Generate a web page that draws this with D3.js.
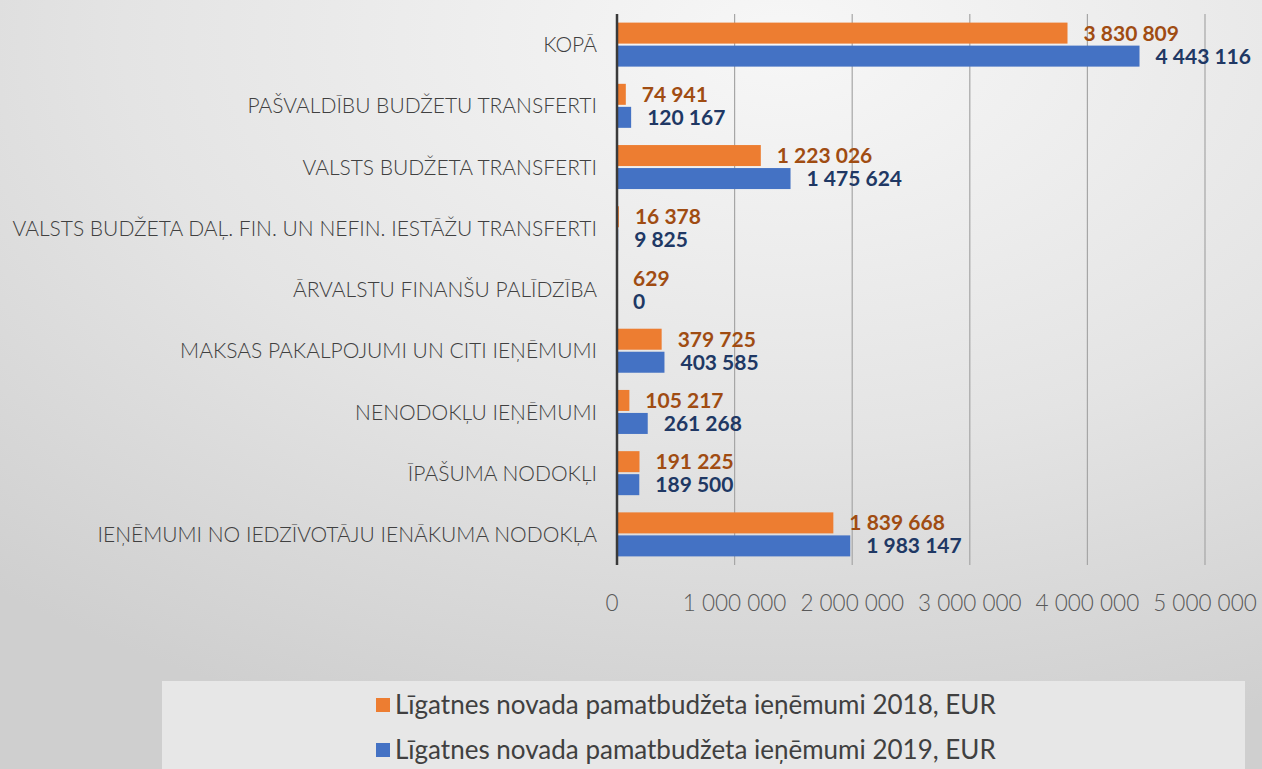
<!DOCTYPE html>
<html>
<head>
<meta charset="utf-8">
<script src="https://cdn.jsdelivr.net/npm/d3@7"></script>
<style>
  body { margin: 0; overflow: hidden; }
  svg { display: block; }
</style>
</head>
<body>
<svg></svg>
<script>
const width = 1262
const height = 769

const categories = [
    'KOPĀ',
    'PAŠVALDĪBU BUDŽETU TRANSFERTI',
    'VALSTS BUDŽETA TRANSFERTI',
    'VALSTS BUDŽETA DAĻ. FIN. UN NEFIN. IESTĀŽU TRANSFERTI',
    'ĀRVALSTU FINANŠU PALĪDZĪBA',
    'MAKSAS PAKALPOJUMI UN CITI IEŅĒMUMI',
    'NENODOKĻU IEŅĒMUMI',
    'ĪPAŠUMA NODOKĻI',
    'IEŅĒMUMI NO IEDZĪVOTĀJU IENĀKUMA NODOKĻA'
]
const values2018 = [3830809, 74941, 1223026, 16378, 629, 379725, 105217, 191225, 1839668]
const values2019 = [4443116, 120167, 1475624, 9825, 0, 403585, 261268, 189500, 1983147]
const seriesNames = [
    'Līgatnes novada pamatbudžeta ieņēmumi 2018, EUR',
    'Līgatnes novada pamatbudžeta ieņēmumi 2019, EUR'
]
const xTicks = [0, 1000000, 2000000, 3000000, 4000000, 5000000]

const barColors = ['#ed7d31', '#4472c4']
const labelColors = ['#a04c12', '#203864']

const fmt = d3.formatLocale({ decimal: ',', thousands: ' ', grouping: [3], currency: ['', ''] }).format(',d')

const series = [values2018, values2019]
const rows = categories.map((c, i) => ({ cat: c, vals: series.map(s => s[i]) }))

const svg = d3.select('svg')
    .attr('width', width)
    .attr('height', height)

// background
const defs = svg.append('defs')
const grad = defs.append('radialGradient')
    .attr('id', 'bg')
    .attr('cx', '0.62').attr('cy', '0.05').attr('r', '0.95')
grad.append('stop').attr('offset', '0').attr('stop-color', '#f7f7f7')
grad.append('stop').attr('offset', '0.55').attr('stop-color', '#e4e4e4')
grad.append('stop').attr('offset', '1').attr('stop-color', '#cfcfcf')
svg.append('rect')
    .attr('width', width).attr('height', height)
    .attr('fill', 'url(#bg)')

// legend box
svg.append('rect')
    .attr('x', 162).attr('y', 681)
    .attr('width', 1083).attr('height', 100)
    .attr('fill', '#e7e7e7')

const x = d3.scaleLinear()
    .domain([0, 5000000])
    .range([617, 1205])

const y = d3.scaleBand()
    .domain(categories)
    .range([14, 565])

const ySub = d3.scaleBand()
    .domain([0, 1])
    .range([0, y.bandwidth()])
    .paddingInner(0.087)
    .paddingOuter(0.374)

// gridlines
svg.append('g')
    .selectAll('line')
    .data(xTicks.slice(1))
    .enter()
    .append('line')
    .attr('x1', d => x(d)).attr('x2', d => x(d))
    .attr('y1', y.range()[0]).attr('y2', y.range()[1])
    .attr('stroke', '#a6a6a6')
    .attr('stroke-width', 1.2)

// bars
const groups = svg.append('g')
    .selectAll('g')
    .data(rows)
    .enter()
    .append('g')
    .attr('transform', d => `translate(0,${y(d.cat)})`)

groups.selectAll('rect')
    .data(d => d.vals.map((v, i) => ({ v, i })))
    .enter()
    .append('rect')
    .attr('x', x(0))
    .attr('y', d => ySub(d.i))
    .attr('width', d => x(d.v) - x(0))
    .attr('height', ySub.bandwidth())
    .attr('fill', d => barColors[d.i])

groups.selectAll('text')
    .data(d => d.vals.map((v, i) => ({ v, i })))
    .enter()
    .append('text')
    .attr('x', d => x(d.v) + 16)
    .attr('y', d => ySub(d.i) + ySub.bandwidth() / 2)
    .attr('dy', '0.36em')
    .attr('fill', d => labelColors[d.i])
    .style('font', 'bold 21px Lato, sans-serif')
    .text(d => fmt(d.v))

// vertical axis line
svg.append('line')
    .attr('x1', x(0)).attr('x2', x(0))
    .attr('y1', y.range()[0]).attr('y2', y.range()[1])
    .attr('stroke', '#3a3a3a')
    .attr('stroke-width', 2.5)

// category labels
svg.append('g')
    .selectAll('text')
    .data(categories)
    .enter()
    .append('text')
    .attr('x', 597)
    .attr('y', d => y(d) + y.bandwidth() / 2)
    .attr('dy', '0.36em')
    .attr('text-anchor', 'end')
    .attr('fill', '#404040')
    .style('font', '300 21px Lato, sans-serif')
    .text(d => d)

// x axis tick labels
svg.append('g')
    .selectAll('text')
    .data(xTicks)
    .enter()
    .append('text')
    .attr('x', d => x(d) - (d === 0 ? 5 : 0))
    .attr('y', 603)
    .attr('dy', '0.36em')
    .attr('text-anchor', 'middle')
    .attr('fill', '#595959')
    .style('font', '300 22.5px Lato, sans-serif')
    .text(d => fmt(d))

// legend
const legendItems = svg.append('g')
    .selectAll('g')
    .data(seriesNames)
    .enter()
    .append('g')
    .attr('transform', (d, i) => `translate(376,${705 + i * 45})`)

legendItems.append('rect')
    .attr('x', 0).attr('y', -7)
    .attr('width', 14).attr('height', 14)
    .attr('fill', (d, i) => barColors[i])

legendItems.append('text')
    .attr('x', 19)
    .attr('dy', '0.36em')
    .attr('fill', '#404040')
    .style('font', '26px Lato, sans-serif')
    .text(d => d)
</script>
</body>
</html>
